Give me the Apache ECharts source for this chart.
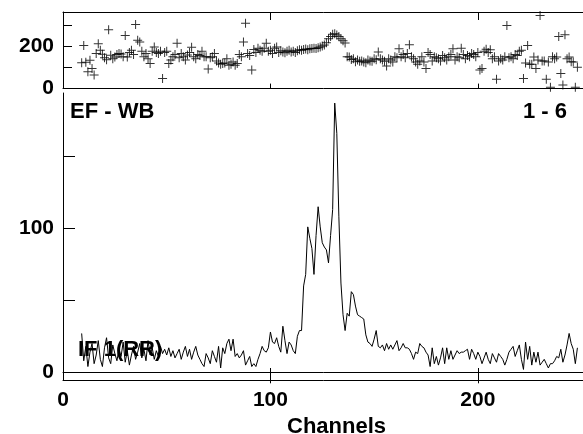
<!DOCTYPE html>
<html><head><meta charset="utf-8">
<script src="https://cdn.jsdelivr.net/npm/echarts@6/dist/echarts.min.js"></script>
<style>html,body{margin:0;padding:0;background:#fff}#c{width:583px;height:434px}</style>
</head><body><div id="c"></div>
<script>
// first channel drawn; every value below belongs to the next channel
const firstChannel = 9;

// upper panel: ratio-like values shown as + markers (channels 9..248)
const ratioValues = [
 121,203,124,79,133,95,64,165,211,180,161,145,136,276,157,140,149,160,165,163,
 150,250,148,170,180,160,301,227,219,175,150,165,140,118,175,195,170,165,175,48,
 170,175,118,135,150,160,213,145,165,150,135,158,170,194,150,140,160,155,175,150,
 150,92,145,150,165,130,120,114,118,120,140,110,115,125,110,118,160,150,219,307,
 165,155,87,184,170,190,180,175,190,213,175,180,165,190,196,170,178,172,168,175,
 180,172,176,170,178,182,180,184,186,183,187,188,190,189,192,195,200,205,215,234,
 245,255,258,252,245,234,225,214,150,149,137,140,126,135,128,130,125,121,135,130,
 128,140,136,172,140,135,128,106,140,135,125,150,145,187,150,160,145,165,206,150,
 140,125,114,130,150,125,95,170,160,130,150,145,140,130,155,145,135,150,160,187,
 135,150,145,190,160,140,155,150,165,160,150,170,87,95,175,185,170,182,140,150,
 44,130,140,135,150,296,145,150,140,160,155,175,180,48,120,202,114,115,149,95,
 135,343,130,130,44,125,6,150,140,149,245,71,17,253,140,149,126,125,6,100
];

// lower panel: counts per channel drawn as a line (channels 9..248)
const countValues = [
 27,8,18,4,14,20,6,12,22,9,4,17,24,10,6,19,13,8,16,11,
 21,7,15,5,12,18,9,14,20,10,16,8,22,12,17,9,15,11,18,13,
 16,12,17,11,15,10,13,16,9,14,18,11,16,9,14,18,12,9,6,4,
 13,10,6,15,11,7,18,3,17,13,20,23,15,23,11,13,10,12,15,5,
 8,11,4,6,4,9,13,18,15,14,17,28,21,20,24,18,14,32,22,13,
 21,19,15,13,25,29,29,60,68,101,93,86,68,95,115,101,90,87,85,76,
 95,113,187,166,108,62,40,29,41,39,56,54,46,40,39,38,37,26,21,20,
 18,23,29,18,17,19,15,20,16,19,16,19,22,15,17,20,17,17,16,13,
 9,14,13,20,18,17,14,12,4,17,6,11,5,10,17,6,17,9,15,9,
 12,15,13,14,14,15,16,9,16,13,9,14,11,6,10,14,9,6,13,10,
 7,13,11,9,5,9,14,16,18,11,15,19,9,2,21,9,18,5,14,7,
 14,5,7,9,6,3,6,6,8,11,10,16,7,12,19,27,20,16,6,17
];

const xTickValues = [0, 100, 200];
const topYTickValues = [100, 200, 300];
const topYLabelValues = [0, 200];
const bottomYTickValues = [0, 50, 100, 150];
const bottomYLabelValues = [0, 100];
const xAxisTitle = 'Channels';
const panelTitleLeft = 'EF - WB';
const panelTitleRight = '1 - 6';
const spectrumName = 'IF 1(RR)';

const FONT = '"Liberation Sans", Arial, sans-serif';
const ratioData = ratioValues.map((v, i) => [firstChannel + i, v]);
const countData = countValues.map((v, i) => [firstChannel + i, v]);

const axisLine = { show: true, lineStyle: { color: '#000', width: 1 } };
const labelStyle = { color: '#000', fontFamily: FONT, fontWeight: 'bold', fontSize: 21 };

function xAxis(grid, pos, tickLen, labels) {
  return {
    type: 'value', gridIndex: grid, position: pos, min: 0, max: 256,
    axisLine: axisLine, splitLine: { show: false },
    axisTick: { show: true, inside: true, length: tickLen, customValues: xTickValues.filter(v => v > 0),
      lineStyle: { color: '#000' } },
    axisLabel: labels ? Object.assign({ show: true, customValues: xTickValues, margin: 10 }, labelStyle) : { show: false }
  };
}

const chart = echarts.init(document.getElementById('c'), null, { renderer: 'canvas' });
chart.setOption({
  animation: false,
  backgroundColor: '#fff',
  grid: [
    { left: 63, top: 12, width: 531, height: 76.6, outerBoundsMode: 'none', containLabel: false },
    { left: 63, top: 93, width: 531, height: 287, outerBoundsMode: 'none', containLabel: false }
  ],
  xAxis: [
    xAxis(0, 'bottom', 5, false),
    xAxis(0, 'top', 8, false),
    xAxis(1, 'top', 11, false),
    Object.assign(xAxis(1, 'bottom', 12, true), {
      name: xAxisTitle, nameLocation: 'middle', nameGap: 24,
      nameTextStyle: { color: '#000', fontFamily: FONT, fontWeight: 'bold', fontSize: 22, padding: [0, 0, 0, 16] }
    })
  ],
  yAxis: [
    { type: 'value', gridIndex: 0, min: 0, max: 360, axisLine: axisLine, splitLine: { show: false },
      axisTick: { show: true, inside: true, length: 9, customValues: topYTickValues, lineStyle: { color: '#000' } },
      axisLabel: Object.assign({ show: true, customValues: topYLabelValues, margin: 9 }, labelStyle) },
    { type: 'value', gridIndex: 1, min: -5.35, max: 194, axisLine: axisLine, splitLine: { show: false },
      axisTick: { show: true, inside: true, length: 12, customValues: bottomYTickValues, lineStyle: { color: '#000' } },
      axisLabel: Object.assign({ show: true, customValues: bottomYLabelValues, margin: 9 }, labelStyle) }
  ],
  series: [
    { type: 'scatter', xAxisIndex: 0, yAxisIndex: 0, data: ratioData,
      symbol: 'path://M0,4L9,4L9,5L0,5Z M4,0L5,0L5,9L4,9Z', symbolSize: 9,
      itemStyle: { color: '#000' }, silent: true },
    { type: 'line', xAxisIndex: 3, yAxisIndex: 1, data: countData, showSymbol: false,
      lineStyle: { color: '#000', width: 1 }, silent: true }
  ],
  graphic: [
    { type: 'text', left: 70, top: 101, style: { text: panelTitleLeft, fill: '#000', font: 'bold 22px ' + FONT } },
    { type: 'text', right: 16, top: 101, style: { text: panelTitleRight, fill: '#000', font: 'bold 22px ' + FONT } },
    { type: 'text', left: 78, top: 339, style: { text: spectrumName, fill: '#000', font: 'bold 22px ' + FONT } }
  ]
});
</script>
</body></html>
